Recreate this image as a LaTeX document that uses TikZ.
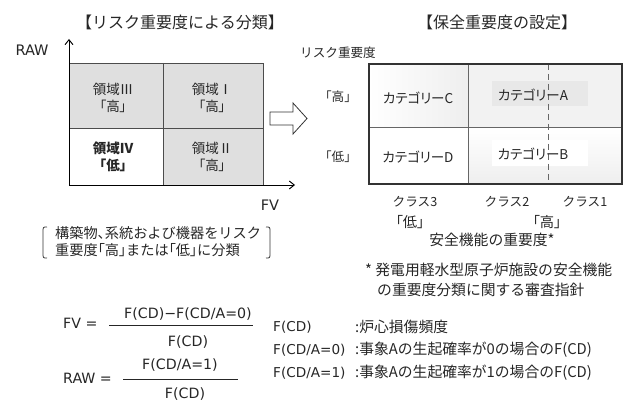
\documentclass[tikz,border=0pt]{standalone}
\usepackage{fontspec}
\setmainfont{Noto Sans CJK JP}
\newfontfamily\jpp{Noto Sans CJK JP}[RawFeature={+palt}]
\newfontfamily\latf{DejaVu Sans}
\usetikzlibrary{arrows.meta}
\begin{document}
\begin{tikzpicture}[x=1pt,y=-1pt,
  every node/.style={inner sep=0pt,text=black!85},
  jpc/.style={font=\jpp\fontsize{13.5}{16}\selectfont},
  jpcb/.style={font=\jpp\bfseries\fontsize{13.5}{16}\selectfont},
  jpt/.style={font=\fontsize{16}{18}\selectfont},
  jps/.style={font=\fontsize{12.6}{15}\selectfont},
  jpm/.style={font=\fontsize{14.2}{16}\selectfont},
  jpl/.style={font=\fontsize{14.8}{17}\selectfont},
  jpq/.style={font=\jpp\fontsize{14.3}{17}\selectfont},
  lat/.style={font=\latf\fontsize{13.6}{16}\selectfont},
  latf/.style={font=\latf\fontsize{14.2}{16}\selectfont},
  latbig/.style={font=\latf\fontsize{14.5}{17}\selectfont},
  gridl/.style={draw=black!70,line width=0.9pt},
  axis/.style={draw=black,line width=0.9pt,-{Straight Barb[length=5pt,width=8pt]}},
  rgrid/.style={draw=black!80,line width=1.3pt},
  rinner/.style={draw=black!60,line width=1pt},
  frac/.style={draw=black!85,line width=1pt}]
\useasboundingbox (0,0) rectangle (627,401);

% ---------- left part ----------
\node[jpt] (t1) at (180,22) {【リスク重要度による分類】};
\fill[gray!25] (69,63) rectangle (263,128);
\fill[gray!25] (163,128) rectangle (263,185);
\fill[white] (69,128) rectangle (163,185);
\draw[gridl] (69,63) rectangle (263,185);
\draw[gridl] (69,128) -- (263,128);
\draw[gridl] (163,63) -- (163,185);
\coordinate (o) at (69,185);
\coordinate (ytip) at (69,39);
\coordinate (xtip) at (295,185);
\draw[axis] (o) -- (ytip);
\draw[axis] (o) -- (xtip);
\node[latbig] (raw) at (32,50) {RAW};
\node[latbig] (fv) at (270,205) {FV};

\node[jpc] (r3a) at (113,89) {領域Ⅲ};
\node[jpc] (r3b) at (113,106) {「高」};
\node[jpc] (r1a) at (212,89) {領域Ⅰ};
\node[jpc] (r1b) at (212,106) {「高」};
\node[jpcb] (r4a) at (113,148) {領域Ⅳ};
\node[jpcb] (r4b) at (113,165) {「低」};
\node[jpc] (r2a) at (212,148) {領域Ⅱ};
\node[jpc] (r2b) at (212,165) {「高」};

% hollow arrow
\draw[draw=black!80,line width=0.8pt,fill=white]
  (270,112) -- (293,112) -- (293,103) -- (307,118.5) -- (293,134) -- (293,125) -- (270,125) -- cycle;

% bracket note
\draw[black!80,line width=0.8pt] (47,227) .. controls (43,227) .. (43,232) -- (43,253) .. controls (43,258) .. (47,258);
\draw[black!80,line width=0.8pt] (266,227) .. controls (270,227) .. (270,232) -- (270,253) .. controls (270,258) .. (266,258);
\node[jpm,anchor=west] (n1) at (55,233) {構築物{\jpp 、}系統および機器をリスク};
\node[jpm,anchor=west] (n2) at (55,250) {重要度{\jpp 「高」}または{\jpp 「低」}に分類};

% ---------- right part ----------
\node[jpt] (t2) at (497,22) {【保全重要度の設定】};
\node[jps,anchor=west] (rj) at (300,53) {リスク重要度};
\shade[left color=white,right color=gray!13] (369,64) rectangle (468,128);
\fill[gray!10] (468,64) rectangle (622,128);
\fill[white] (369,128) rectangle (468,184);
\shade[top color=white,bottom color=gray!13] (468,128) rectangle (622,184);
\fill[gray!18] (492,81) rectangle (588,106);
\fill[white] (492,140) rectangle (588,166);
\draw[rinner] (369,128) -- (622,128);
\draw[rinner] (468,64) -- (468,184);
\draw[black!60,line width=0.9pt,dash pattern=on 6pt off 4pt] (548,64) -- (548,184);
\draw[rgrid] (369,64) rectangle (622,184);
\node[jps] (hi) at (338,97) {「高」};
\node[jps] (lo) at (338,157) {「低」};
\node[jpc] (cc) at (418,98) {カテゴリーC};
\node[jpc] (ca) at (533,95) {カテゴリーA};
\node[jpc] (cd) at (418,157) {カテゴリーD};
\node[jpc] (cb) at (533,154) {カテゴリーB};

\node[jps] (k3) at (415,202) {クラス3};
\node[jps] (k2) at (507,202) {クラス2};
\node[jps] (k1) at (585,202) {クラス1};
\node[jpq] (klo) at (410,222) {「低」};
\node[jpq] (khi) at (547,222) {「高」};
\node[jpl] (ks) at (492,240) {安全機能の重要度*};
\node[jpl,anchor=west] (f1) at (365,270) {* 発電用軽水型原子炉施設の安全機能};
\node[jpl,anchor=west] (f2) at (377,290) {の重要度分類に関する審査指針};

% ---------- formulas ----------
\node[latf,anchor=west] (fveq) at (63,323) {FV =};
\node[latf] (fvnum) at (188,314) {F(CD)−F(CD/A=0)};
\node[latf] (fvden) at (188,342) {F(CD)};
\coordinate (fl1) at (109,325);
\coordinate (fr1) at (253,325);
\draw[frac] (fl1) -- (fr1);
\node[latf,anchor=west] (raweq) at (63,378) {RAW =};
\node[latf] (rawnum) at (180,365) {F(CD/A=1)};
\node[latf] (rawden) at (185,394) {F(CD)};
\coordinate (fl2) at (123,379);
\coordinate (fr2) at (238,379);
\draw[frac] (fl2) -- (fr2);

\node[lat,anchor=west] (d1) at (273,327) {F(CD)};
\node[lat,anchor=west] (d2) at (273,350) {F(CD/A=0)};
\node[lat,anchor=west] (d3) at (273,373) {F(CD/A=1)};
\node[jpl,anchor=west] (e1) at (355,327) {:炉心損傷頻度};
\node[jpl,anchor=west] (e2) at (355,350) {:事象Aの生起確率が0の場合のF(CD)};
\node[jpl,anchor=west] (e3) at (355,373) {:事象Aの生起確率が1の場合のF(CD)};
\end{tikzpicture}
\end{document}
